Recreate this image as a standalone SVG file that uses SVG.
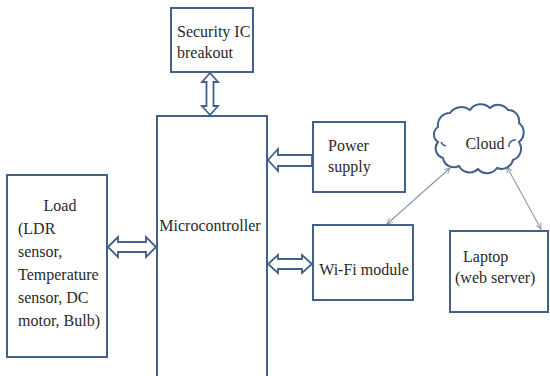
<svg xmlns="http://www.w3.org/2000/svg" width="550" height="376" viewBox="0 0 550 376">
<style>
.box{fill:#ffffff;stroke:#41618a;stroke-width:2}
.blk{fill:#ffffff;stroke:#41618a;stroke-width:1.8;stroke-linejoin:miter}
.t{font-family:"Liberation Serif","Times New Roman",serif;font-size:16px;fill:#2a2a2a}
.ln{stroke:#8c98aa;stroke-width:1.1;fill:none}
</style>
<defs>
<marker id="ah" viewBox="0 0 10 10" refX="9" refY="5" markerWidth="7" markerHeight="7" markerUnits="userSpaceOnUse" orient="auto-start-reverse">
<path d="M1,1 L9,5 L1,9" fill="none" stroke="#8c98aa" stroke-width="1.4"/>
</marker>
</defs>
<rect width="550" height="376" fill="#ffffff"/>

<g id="connectors">
<path class="blk" d="M210,73 L218,82 L213.5,82 L213.5,106 L218,106 L210,115 L202,106 L206.5,106 L206.5,82 L202,82 Z"/>
<path class="blk" d="M268,160 L278,149 L278,155 L312,155 L312,166 L278,166 L278,171 Z"/>
<path class="blk" d="M108,247 L118,237 L118,242 L146,242 L146,237 L156,247 L146,257 L146,252 L118,252 L118,257 Z"/>
<path class="blk" d="M268,264 L278,255 L278,259 L302,259 L302,255 L312,264 L302,273 L302,269 L278,269 L278,273 Z"/>
<line class="ln" x1="450" y1="168" x2="387" y2="224" marker-start="url(#ah)" marker-end="url(#ah)"/>
<line class="ln" x1="507" y1="167" x2="541" y2="229" marker-start="url(#ah)" marker-end="url(#ah)"/>
</g>

<g id="security">
<rect class="box" x="171" y="8" width="82" height="64"/>
<text class="t" x="177" y="37">Security IC</text>
<text class="t" x="177" y="58">breakout</text>
</g>

<g id="microcontroller">
<rect class="box" x="157" y="116" width="110" height="280"/>
<text class="t" x="210" y="231" text-anchor="middle">Microcontroller</text>
</g>

<g id="load">
<rect class="box" x="7" y="175" width="100" height="182"/>
<text class="t" x="60" y="211" text-anchor="middle">Load</text>
<text class="t" x="18" y="234">(LDR</text>
<text class="t" x="18" y="257">sensor,</text>
<text class="t" x="18" y="280">Temperature</text>
<text class="t" x="18" y="303">sensor, DC</text>
<text class="t" x="18" y="326">motor, Bulb)</text>
</g>

<g id="power">
<rect class="box" x="313" y="122" width="92" height="70"/>
<text class="t" x="328" y="151">Power</text>
<text class="t" x="328" y="172">supply</text>
</g>

<g id="wifi">
<rect class="box" x="313" y="225" width="100" height="75"/>
<text class="t" x="364" y="275" text-anchor="middle">Wi-Fi module</text>
</g>

<g id="cloud">
<path d="M438,127 A12,12 0 0 1 450,113 A14,14 0 0 1 470,110 A13,13 0 0 1 490,108 A12,12 0 0 1 508,110 A11,11 0 0 1 519,123 A12,12 0 0 1 519,142 A12,12 0 0 1 513,160 A12,12 0 0 1 497,168 A12,12 0 0 1 478,169 A12,12 0 0 1 459,166 A11,11 0 0 1 443,158 A10,10 0 0 1 438,142 A9,9 0 0 1 438,127 Z" fill="#ffffff" stroke="#41618a" stroke-width="2"/>
<path d="M509,147 A6,6 0 0 1 516,140 M441,142 A7,7 0 0 0 446,146" fill="none" stroke="#41618a" stroke-width="1.5"/>
<text class="t" x="485" y="149" text-anchor="middle">Cloud</text>
</g>

<g id="laptop">
<rect class="box" x="450" y="231" width="98" height="81"/>
<text class="t" x="463" y="262">Laptop</text>
<text class="t" x="455" y="283">(web server)</text>
</g>
</svg>
